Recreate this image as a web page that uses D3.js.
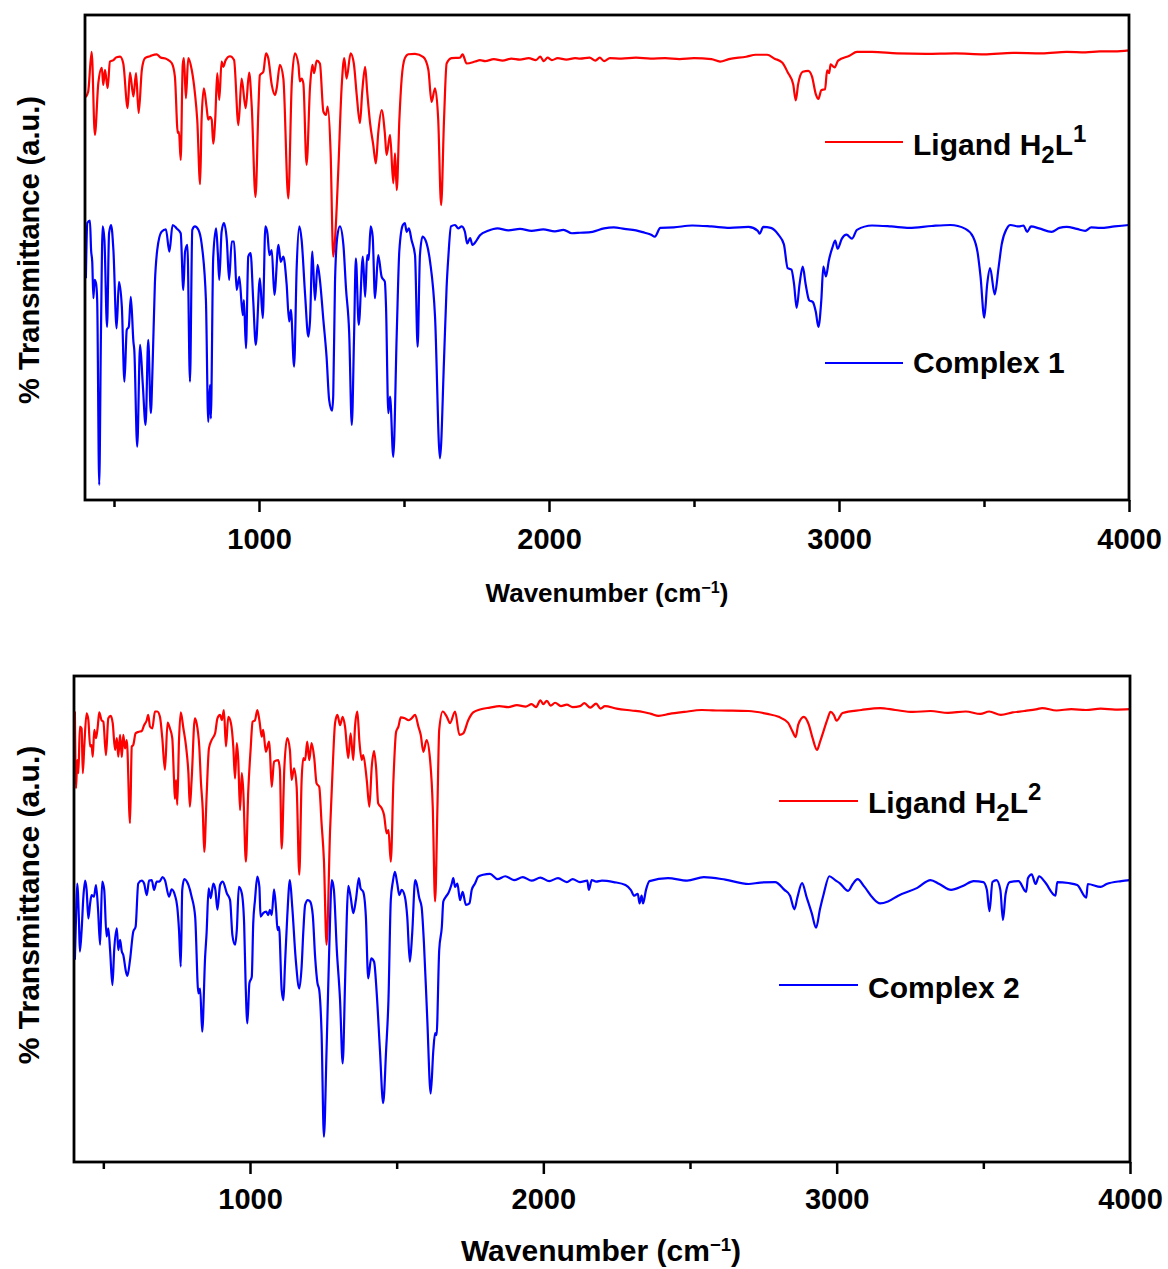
<!DOCTYPE html>
<html>
<head>
<meta charset="utf-8">
<script src="https://cdn.jsdelivr.net/npm/d3@7"></script>
<style>
  body { margin: 0; background: #fff; }
  svg { display: block; }
  text { font-family: "Liberation Sans", Arial, sans-serif; font-weight: bold; fill: #000; }
</style>
</head>
<body>
<div id="chart"></div>
<script>
// tick values (cm-1)
const majorTicks = [1000, 2000, 3000, 4000];
const minorTicks = [500, 1500, 2500, 3500];

// spectra, [wavenumber, transmittance a.u.]
const ligand1 = [
  [403,83.1],[411,84.2],[423,92.4],[434,75.3],[446,86.0],[458,89.1],[463,85.6],[469,88.7],[478,84.9],[486,90.4],[498,90.7],[509,91.3],[521,91.4],[532,90.0],[547,80.8],[555,88.1],[567,83.2],[576,88.0],[585,79.8],[596,88.7],[607,91.1],[624,91.5],[647,91.9],[659,91.3],[682,90.9],[699,90.1],[710,87.3],[720,75.7],[724,75.9],[730,70.1],[737,89.7],[741,91.1],[748,82.8],[756,91.1],[768,88.7],[779,83.9],[787,78.4],[797,65.1],[802,78.4],[810,84.9],[819,81.1],[825,78.4],[831,79.0],[837,78.4],[842,73.5],[849,78.4],[856,88.0],[863,82.5],[871,90.4],[877,89.3],[885,90.7],[900,91.5],[914,90.7],[929,77.3],[940,86.9],[954,80.8],[966,88.1],[975,81.1],[988,62.5],[998,80.8],[1003,87.6],[1015,88.3],[1024,92.1],[1032,91.1],[1044,85.6],[1055,83.5],[1061,84.9],[1072,89.7],[1084,86.9],[1101,62.2],[1113,85.9],[1124,92.1],[1136,89.7],[1141,86.3],[1147,86.9],[1153,85.9],[1164,69.1],[1176,85.2],[1184,89.7],[1190,88.0],[1199,90.6],[1210,90.0],[1222,80.1],[1231,79.4],[1237,81.1],[1247,71.5],[1256,50.2],[1262,53.6],[1273,67.4],[1285,85.2],[1294,91.1],[1302,86.9],[1316,92.1],[1327,90.0],[1337,83.5],[1348,77.7],[1356,84.2],[1366,89.3],[1373,84.2],[1383,77.7],[1394,73.2],[1403,69.4],[1411,75.6],[1423,80.4],[1434,75.6],[1440,71.1],[1452,75.3],[1463,65.3],[1469,71.5],[1475,63.9],[1484,78.4],[1492,86.9],[1503,91.1],[1515,91.9],[1538,92.0],[1567,91.3],[1584,88.7],[1595,82.1],[1607,84.9],[1618,78.4],[1628,60.8],[1638,78.4],[1647,90.0],[1664,91.1],[1693,91.2],[1702,91.9],[1716,90.0],[1745,90.4],[1762,90.7],
  [1780,90.5],[1810,90.9],[1840,90.6],[1870,91.0],[1900,90.8],[1930,91.1],[1955,90.7],[1970,91.4],[1982,90.5],[1995,91.2],[2010,90.7],[2030,91.1],[2060,90.8],[2090,91.1],[2107,91.0],[2140,91.2],[2160,90.6],[2175,91.2],[2190,90.5],[2210,91.1],[2250,91.0],[2300,91.2],[2350,91.0],[2400,91.1],[2450,90.9],[2500,91.1],[2560,90.9],[2590,90.4],[2620,90.9],[2680,91.4],[2713,91.8],[2752,91.8],[2778,91.0],[2804,90.2],[2823,88.2],[2842,85.7],[2851,82.4],[2859,85.7],[2875,88.3],[2894,88.5],[2907,87.3],[2920,83.7],[2929,82.7],[2939,84.5],[2952,84.7],[2959,88.6],[2966,88.0],[2971,89.8],[2985,89.2],[2997,90.6],[3036,91.6],[3062,92.4],[3114,92.4],[3200,92.1],[3300,92.0],[3400,92.1],[3500,91.9],[3600,92.2],[3700,92.1],[3785,92.4],[3850,92.3],[3900,92.5],[3950,92.5],[4000,92.7]
];

const complex1 = [
  [403,45.7],[408,57.1],[417,57.6],[421,51.5],[425,49.1],[429,41.6],[433,45.4],[438,44.7],[442,41.2],[449,3.1],[455,34.4],[461,56.4],[467,53.6],[476,35.7],[483,55.0],[490,56.7],[498,51.5],[509,35.4],[517,45.0],[527,39.9],[536,24.4],[544,35.1],[551,35.7],[558,41.9],[567,32.6],[570,30.9],[580,11.0],[590,32.0],[599,24.1],[609,15.5],[618,33.0],[627,17.9],[633,27.5],[641,44.7],[649,51.5],[664,55.3],[679,55.8],[691,51.2],[702,56.7],[716,56.0],[730,55.0],[739,43.3],[745,51.2],[753,52.6],[762,24.4],[770,55.7],[779,56.4],[791,55.7],[802,52.9],[817,41.2],[825,16.1],[831,23.7],[834,16.8],[842,49.8],[852,56.0],[858,50.9],[863,45.4],[871,55.3],[879,57.1],[889,53.6],[897,45.4],[906,53.3],[914,53.3],[923,43.3],[932,46.0],[944,38.1],[948,41.2],[955,31.3],[963,50.2],[971,50.9],[980,41.2],[989,32.0],[1003,45.7],[1013,37.5],[1022,56.4],[1029,55.0],[1036,50.5],[1044,51.5],[1053,42.3],[1067,52.6],[1075,49.1],[1084,50.2],[1095,44.7],[1104,36.8],[1110,39.2],[1121,27.5],[1130,48.1],[1139,56.4],[1147,53.6],[1159,42.3],[1170,33.7],[1176,37.1],[1184,51.2],[1193,41.2],[1202,48.5],[1210,45.4],[1222,37.1],[1233,29.5],[1242,20.6],[1252,18.4],[1256,21.6],[1262,44.7],[1270,54.3],[1279,56.4],[1291,52.6],[1300,43.6],[1311,34.4],[1320,15.5],[1328,34.4],[1334,49.8],[1344,36.1],[1358,50.2],[1366,41.9],[1373,50.5],[1378,49.5],[1385,56.4],[1392,54.3],[1400,41.6],[1411,50.5],[1423,46.0],[1434,45.0],[1438,39.9],[1446,17.9],[1452,21.3],[1463,8.9],[1475,34.4],[1484,51.5],[1496,56.7],[1503,57.1],[1509,55.3],[1517,56.0],[1526,53.6],[1538,50.5],[1547,31.6],[1555,50.5],[1564,54.3],[1578,52.9],[1590,49.1],[1607,37.8],[1624,8.6],[1638,28.9],[1647,44.0],[1653,50.2],[1662,56.4],[1676,56.7],[1687,56.0],[1699,56.4],[1710,55.3],[1718,52.9],[1728,54.0],[1736,52.6],[1751,53.6],[1762,54.6],
  [1790,55.5],[1822,56.0],[1860,55.6],[1900,55.9],[1940,55.5],[1980,55.8],[2020,55.4],[2050,55.7],[2079,55.0],[2107,55.1],[2150,55.3],[2190,56.0],[2223,56.2],[2260,55.9],[2300,55.6],[2330,55.1],[2352,54.7],[2365,54.3],[2384,56.1],[2430,56.2],[2494,56.6],[2560,56.4],[2623,56.1],[2688,56.3],[2720,55.5],[2726,54.9],[2739,56.3],[2765,56.1],[2791,54.7],[2810,52.7],[2823,47.8],[2836,47.5],[2845,44.5],[2854,39.6],[2864,44.5],[2875,48.1],[2885,44.5],[2897,41.2],[2910,40.8],[2920,38.8],[2929,35.7],[2939,41.2],[2946,48.1],[2955,46.1],[2965,49.4],[2978,52.2],[2987,53.5],[2995,51.8],[3010,53.9],[3026,54.7],[3045,53.9],[3062,55.7],[3114,56.6],[3180,56.4],[3242,56.1],[3320,56.5],[3384,56.7],[3436,55.9],[3462,54.3],[3478,51.0],[3488,46.1],[3501,37.6],[3511,44.5],[3521,47.8],[3537,42.4],[3550,47.8],[3561,52.7],[3578,55.9],[3591,56.7],[3620,56.4],[3636,56.6],[3649,55.3],[3662,56.4],[3690,56.0],[3733,55.3],[3760,56.1],[3785,56.3],[3820,55.9],[3849,55.5],[3870,56.2],[3900,56.1],[3950,56.4],[4000,56.7]
];

const ligand2 = [
  [403,92.7],[407,76.9],[411,82.7],[415,80.0],[420,89.6],[426,89.2],[430,80.0],[435,85.5],[443,92.3],[449,90.9],[455,85.5],[460,85.8],[464,83.4],[469,88.9],[475,87.2],[481,89.6],[486,92.5],[494,90.9],[500,90.6],[509,83.7],[517,91.3],[525,91.8],[532,90.3],[540,84.8],[546,87.2],[551,83.4],[557,87.9],[563,83.3],[568,87.9],[574,85.1],[580,86.8],[591,69.7],[597,85.5],[602,85.8],[610,88.2],[619,88.5],[631,88.7],[639,89.9],[648,90.9],[653,92.0],[659,89.6],[667,89.2],[676,92.7],[684,92.7],[693,91.6],[701,87.2],[710,80.7],[719,90.4],[727,89.2],[735,87.2],[741,78.6],[744,74.7],[748,78.6],[752,73.5],[758,86.8],[764,92.5],[773,89.2],[782,85.5],[790,80.0],[795,73.1],[801,78.6],[812,91.3],[818,90.3],[827,85.5],[833,77.9],[839,72.4],[844,63.8],[852,75.2],[860,85.1],[869,86.8],[881,88.2],[889,91.3],[898,92.0],[904,90.9],[911,93.0],[918,85.5],[926,91.6],[935,90.3],[943,85.5],[949,78.9],[955,86.2],[960,82.7],[966,72.4],[972,80.0],[977,76.5],[986,61.8],[994,76.2],[1002,84.8],[1009,90.6],[1017,90.9],[1025,93.0],[1032,90.9],[1040,87.5],[1045,88.9],[1054,84.4],[1065,86.5],[1068,84.4],[1074,77.2],[1082,82.4],[1096,82.7],[1102,80.7],[1108,64.5],[1117,81.0],[1127,87.2],[1136,84.8],[1142,78.6],[1150,81.0],[1159,77.2],[1168,59.1],[1176,78.6],[1182,83.1],[1188,82.7],[1195,86.5],[1202,82.7],[1210,86.2],[1219,83.1],[1227,77.9],[1236,77.2],[1244,69.7],[1252,62.1],[1261,44.7],[1273,68.3],[1282,81.3],[1290,90.3],[1298,92.0],[1307,89.9],[1316,91.6],[1324,89.6],[1335,83.1],[1343,88.2],[1352,82.7],[1358,89.6],[1366,92.7],[1373,86.5],[1381,82.7],[1386,83.7],[1398,78.6],[1407,73.1],[1415,81.3],[1423,84.6],[1430,81.0],[1437,73.8],[1449,72.8],[1457,71.4],[1466,67.6],[1472,68.3],[1480,61.8],[1489,78.6],[1498,88.5],[1506,89.6],[1514,91.5],[1528,91.3],[1540,90.9],[1551,91.3],[1563,92.0],[1574,89.6],[1582,87.9],[1591,84.4],[1602,86.8],[1614,82.7],[1623,73.1],[1631,53.6],[1639,73.1],[1645,88.9],[1657,92.7],[1671,91.6],[1682,90.3],[1699,92.7],[1714,87.9],[1727,88.2],[1744,90.9],[1761,92.5],[1784,93.1],[1818,93.5],
  [1850,93.8],[1880,93.6],[1910,94.0],[1940,93.7],[1960,94.2],[1975,93.6],[1990,95.0],[2000,94.2],[2012,94.9],[2025,93.9],[2040,94.5],[2060,93.8],[2080,94.1],[2100,93.6],[2125,93.8],[2140,94.4],[2160,93.5],[2180,94.3],[2195,93.3],[2210,93.8],[2250,93.3],[2300,92.9],[2340,92.6],[2367,92.2],[2393,91.8],[2430,92.2],[2480,92.6],[2540,93.0],[2600,92.9],[2700,92.8],[2764,92.2],[2802,91.6],[2834,90.4],[2851,88.4],[2860,87.4],[2869,90.0],[2888,91.6],[2905,90.0],[2918,87.2],[2933,84.8],[2943,86.4],[2956,88.8],[2969,91.2],[2979,92.6],[2990,92.0],[3000,90.8],[3020,92.4],[3084,93.0],[3148,93.4],[3200,93.0],[3260,92.6],[3320,92.8],[3380,92.4],[3440,92.7],[3490,92.2],[3520,92.7],[3560,92.0],[3600,92.5],[3640,92.8],[3684,93.2],[3700,93.4],[3750,92.9],[3800,93.2],[3850,93.0],[3900,93.3],[3950,93.1],[4000,93.2]
];

const complex2 = [
  [403,41.6],[407,50.5],[411,57.3],[417,49.4],[420,43.3],[426,47.7],[432,54.6],[438,57.9],[443,56.0],[449,50.1],[455,53.2],[460,54.9],[468,54.6],[475,57.0],[482,51.9],[489,44.7],[496,57.7],[503,56.0],[511,46.4],[517,48.1],[523,43.6],[531,36.4],[537,43.6],[546,48.1],[551,43.6],[557,45.7],[563,43.3],[568,42.6],[577,39.2],[582,38.3],[591,41.6],[602,47.4],[610,48.4],[619,57.3],[631,57.9],[639,57.3],[648,54.9],[656,57.9],[665,58.0],[673,56.0],[682,57.7],[691,57.7],[702,58.6],[710,58.0],[724,54.6],[733,56.1],[744,54.9],[752,52.5],[758,47.7],[764,40.2],[769,56.0],[776,58.2],[790,57.0],[801,54.6],[813,50.5],[824,34.7],[830,35.7],[837,26.8],[847,42.2],[852,47.1],[859,56.3],[866,54.3],[875,57.3],[882,56.0],[889,51.9],[898,57.0],[907,57.7],[921,55.3],[932,53.9],[940,46.7],[949,44.7],[955,47.7],[962,56.6],[972,55.3],[980,49.1],[985,36.8],[991,28.5],[998,36.8],[1006,38.1],[1011,49.1],[1017,53.9],[1025,58.7],[1032,56.6],[1036,50.5],[1045,51.2],[1055,51.5],[1062,50.8],[1068,51.9],[1074,50.8],[1082,56.1],[1089,51.9],[1094,47.7],[1099,48.4],[1108,35.4],[1114,33.3],[1119,40.2],[1127,50.5],[1136,58.0],[1144,52.5],[1156,41.6],[1168,35.7],[1176,40.2],[1182,47.7],[1188,52.9],[1197,53.9],[1205,53.6],[1214,50.8],[1222,42.2],[1230,36.8],[1236,35.4],[1244,26.5],[1252,5.2],[1261,23.0],[1270,43.6],[1279,58.0],[1286,56.0],[1296,43.6],[1307,33.3],[1316,20.3],[1324,36.8],[1330,50.5],[1335,56.8],[1343,54.6],[1352,51.2],[1361,53.9],[1371,58.4],[1377,56.3],[1386,55.6],[1395,50.5],[1403,37.8],[1413,41.9],[1423,41.2],[1432,34.7],[1443,23.0],[1454,12.1],[1464,23.0],[1472,33.3],[1480,53.9],[1487,57.7],[1494,59.7],[1502,57.3],[1509,54.9],[1517,56.0],[1528,54.6],[1536,50.5],[1545,41.2],[1553,47.1],[1563,58.0],[1568,57.3],[1577,54.3],[1585,52.5],[1593,45.0],[1604,29.9],[1616,14.1],[1625,23.0],[1631,26.5],[1636,26.1],[1645,43.6],[1654,48.4],[1659,53.6],[1668,54.6],[1676,55.3],[1688,57.3],[1693,58.4],[1699,56.6],[1707,57.3],[1716,53.9],[1725,55.6],[1736,52.9],[1748,53.2],[1756,56.0],[1767,57.3],[1778,58.7],[1795,59.1],[1818,59.3],
  [1844,58.2],[1870,58.8],[1900,58.0],[1930,58.6],[1960,57.9],[1990,58.5],[2020,57.8],[2050,58.4],[2080,57.6],[2100,58.2],[2125,57.6],[2150,57.9],[2155,56.0],[2165,58.0],[2180,57.7],[2200,57.9],[2240,57.6],[2280,57.0],[2298,56.0],[2310,54.8],[2322,55.2],[2328,53.2],[2335,54.8],[2340,53.2],[2350,56.0],[2362,57.8],[2425,58.4],[2490,57.9],[2547,58.6],[2620,58.1],[2700,57.2],[2740,57.5],[2790,57.6],[2822,56.0],[2841,54.8],[2856,52.0],[2866,54.4],[2882,57.4],[2898,54.4],[2915,51.2],[2930,48.2],[2943,52.0],[2956,55.2],[2975,58.8],[2995,58.0],[3010,57.4],[3039,55.8],[3055,57.2],[3071,58.2],[3095,56.6],[3122,54.4],[3148,53.2],[3175,53.6],[3210,54.8],[3275,56.4],[3320,58.0],[3350,57.2],[3390,56.0],[3430,56.8],[3467,57.8],[3500,57.6],[3512,56.0],[3521,51.6],[3531,57.6],[3545,58.0],[3558,56.0],[3567,49.8],[3576,55.2],[3590,57.6],[3620,57.8],[3646,55.6],[3652,58.4],[3665,59.2],[3678,57.2],[3690,58.8],[3710,57.6],[3746,54.8],[3752,57.6],[3790,57.4],[3820,57.0],[3851,54.4],[3856,57.2],[3900,56.6],[3920,57.2],[3970,57.8],[4000,58.0]
];

// legend labels: [text, "sub" | "sup" | ""]
const legend1 = [[["Ligand H", ""], ["2", "sub"], ["L", ""], ["1", "sup"]], [["Complex 1", ""]]];
const legend2 = [[["Ligand H", ""], ["2", "sub"], ["L", ""], ["2", "sup"]], [["Complex 2", ""]]];

const colors = ["#ff0000", "#0000ff"];

const svg = d3.select("#chart")
  .append("svg")
  .attr("width", 1168)
  .attr("height", 1269);

const panels = [
  { series: [ligand1, complex1], legend: legend1,
    left: 85, right: 1129, top: 15, bottom: 500, tickFont: 29, tickPad: 16,
    xTitle: { x: 607, y: 602, size: 26 }, yTitle: { x: 39, y: 250, size: 29 },
    leg: { x1: 825, x2: 903, tx: 913, size: 30, rows: [{ y: 142, base: 155 }, { y: 363, base: 373 }] } },
  { series: [ligand2, complex2], legend: legend2,
    left: 74, right: 1130, top: 676, bottom: 1162, tickFont: 29, tickPad: 14,
    xTitle: { x: 601, y: 1261, size: 30 }, yTitle: { x: 39, y: 905, size: 30 },
    leg: { x1: 779, x2: 858, tx: 868, size: 30, rows: [{ y: 801, base: 813 }, { y: 985, base: 998 }] } }
];

const drawPanel = (p) => {
  const g = svg.append("g");

  const x = d3.scaleLinear().domain([400, 4000]).range([p.left, p.right]);
  const y = d3.scaleLinear().domain([0, 100]).range([p.bottom, p.top]);

  const line = d3.line()
    .x(d => x(d[0]))
    .y(d => y(d[1]))
    .curve(d3.curveMonotoneX);

  // spectra
  p.series.forEach((s, i) => {
    g.append("path")
      .datum(s)
      .attr("d", line)
      .attr("fill", "none")
      .attr("stroke", colors[i])
      .attr("stroke-width", 2.2)
      .attr("stroke-linejoin", "round");
  });

  // minor ticks
  g.append("g")
    .attr("transform", `translate(0,${p.bottom})`)
    .call(d3.axisBottom(x).tickValues(minorTicks).tickSize(7).tickFormat(""))
    .call(a => a.select(".domain").remove())
    .call(a => a.selectAll("line").attr("stroke-width", 2.5));

  // major ticks + labels
  g.append("g")
    .attr("transform", `translate(0,${p.bottom})`)
    .call(d3.axisBottom(x).tickValues(majorTicks).tickSize(12).tickPadding(p.tickPad).tickFormat(d3.format("d")))
    .call(a => a.select(".domain").remove())
    .call(a => a.selectAll("line").attr("stroke-width", 2.5))
    .call(a => a.selectAll("text")
      .attr("font-size", p.tickFont)
      .attr("font-family", "Liberation Sans, Arial, sans-serif")
      .attr("font-weight", "bold")
      .attr("fill", "#000"));

  // frame
  g.append("rect")
    .attr("x", p.left)
    .attr("y", p.top)
    .attr("width", p.right - p.left)
    .attr("height", p.bottom - p.top)
    .attr("fill", "none")
    .attr("stroke", "#000")
    .attr("stroke-width", 2.8);

  // x title
  const xt = g.append("text")
    .attr("x", p.xTitle.x)
    .attr("y", p.xTitle.y)
    .attr("text-anchor", "middle")
    .attr("font-size", p.xTitle.size);
  xt.append("tspan").text("Wavenumber (cm");
  xt.append("tspan").attr("font-size", p.xTitle.size * 0.62).attr("dy", -p.xTitle.size * 0.33).text("\u22121");
  xt.append("tspan").attr("dy", p.xTitle.size * 0.33).text(")");

  // y title
  g.append("text")
    .attr("transform", `translate(${p.yTitle.x},${p.yTitle.y}) rotate(-90)`)
    .attr("text-anchor", "middle")
    .attr("font-size", p.yTitle.size)
    .text("% Transmittance (a.u.)");

  // legend
  p.legend.forEach((label, i) => {
    const r = p.leg.rows[i];
    g.append("line")
      .attr("x1", p.leg.x1).attr("x2", p.leg.x2)
      .attr("y1", r.y).attr("y2", r.y)
      .attr("stroke", colors[i])
      .attr("stroke-width", 2);

    const t = g.append("text")
      .attr("x", p.leg.tx)
      .attr("y", r.base)
      .attr("font-size", p.leg.size);
    let shift = 0;
    label.forEach(([str, kind]) => {
      let target = 0;
      if (kind === "sub") target = p.leg.size * 0.28;
      if (kind === "sup") target = -p.leg.size * 0.42;
      const ts = t.append("tspan").attr("dy", target - shift).text(str);
      if (kind) ts.attr("font-size", p.leg.size * 0.8);
      shift = target;
    });
  });
};

panels.forEach(drawPanel);
</script>
</body>
</html>
